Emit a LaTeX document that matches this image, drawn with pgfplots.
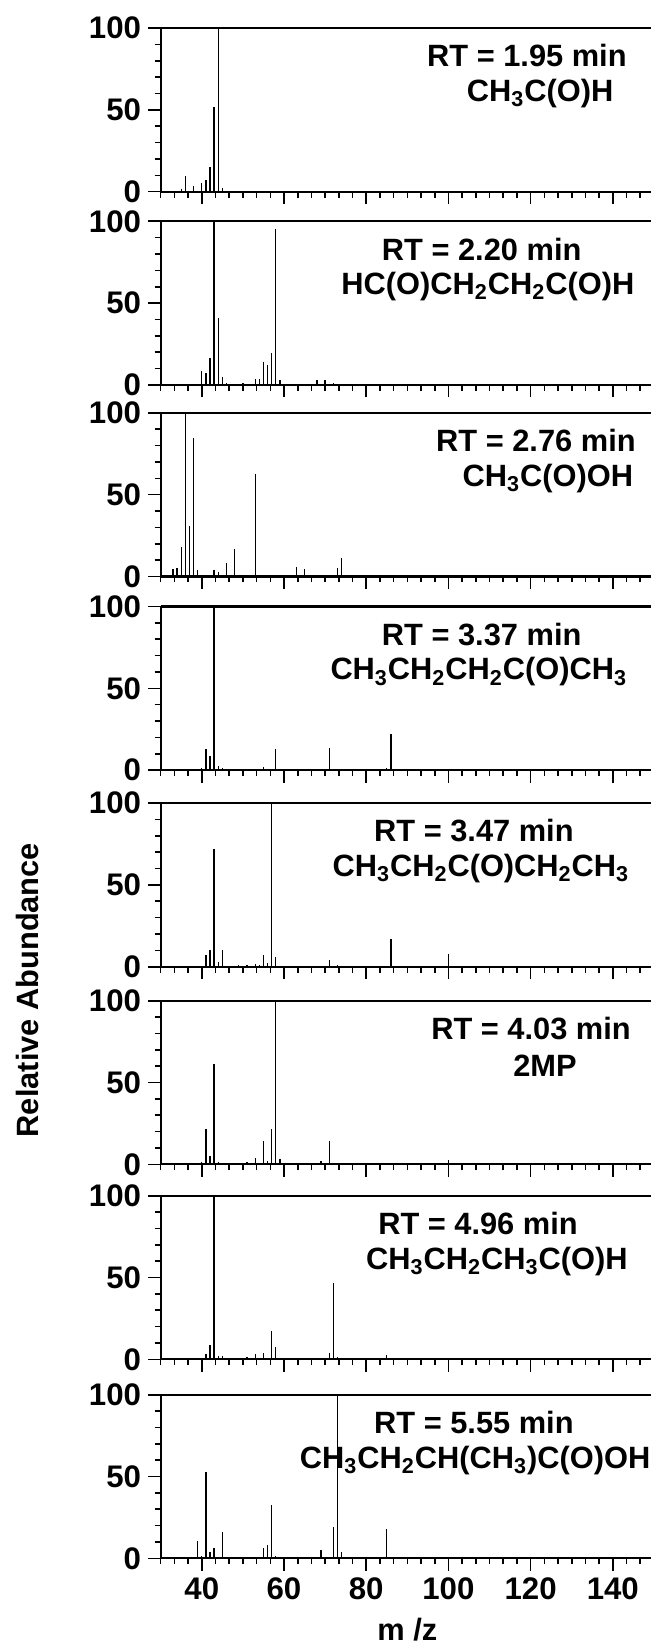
\documentclass[border=0pt]{standalone}
\usepackage{fontspec}
\setmainfont{Liberation Sans}
\usepackage{pgfplots}
\pgfplotsset{compat=1.18}

\newcommand{\sub}[1]{\textsubscript{#1}}
\newcommand{\lbl}{\bfseries\fontsize{15.4}{17}\selectfont}
\newcommand{\tlbl}{\bfseries\fontsize{15.6}{17}\selectfont}

\pgfplotsset{
  ms/.style={
    scale only axis,
    width=246.6pt, height=81.8pt,
    xmin=30, xmax=150, ymin=0, ymax=100,
    axis x line=bottom, axis y line=left,
    axis line style={-, line width=1.1pt},
    xtick={20,40,...,160}, minor x tick num=5,
    ytick={0,50,100}, minor y tick num=4,
    xtick pos=bottom, ytick pos=left,
    tick align=outside,
    major tick length=6.3pt, minor tick length=3pt,
    tick style={black, line width=0.8pt},
    tick label style={font=\tlbl},
    yticklabel style={inner ysep=0pt},
    /pgf/number format/assume math mode=true,
    clip=false,
    execute at end axis={\draw[line width=1.1pt] (rel axis cs:0,1) -- (rel axis cs:1,1);},
  },
  inner/.style={ms, xticklabels={}},
  peaks/.style={ycomb, black, line width=0.65pt, mark=none},
}

\begin{document}
\begin{tikzpicture}
\path[use as bounding box] (-80.35pt,-727.65pt) rectangle (245.15pt,95.85pt);

% 1.95 min
\begin{axis}[inner, at={(0,0)}]
\addplot[peaks] coordinates {(35,1.4)(36,9.5)(38,3.4)(40,5.5)(41,7)(42,15)(43,52)(44,100)(45,2)};
\node[font=\lbl] at (axis cs:119.1,83) {RT = 1.95 min};
\node[font=\lbl] at (axis cs:122.3,60) {CH\sub{3}C(O)H};
\end{axis}

% 2.20 min
\begin{axis}[inner, at={(0,-96.6pt)}]
\addplot[peaks] coordinates {(40,8.8)(41,7.4)(42,16.4)(43,100)(44,40.8)(45,4.7)(46,1)(49,0.5)(50,1.2)(51,0.6)(53,3.3)(54,3.3)(55,14)(56,12)(57,19.5)(58,95.5)(59,2.7)(65,0.3)(68,2.9)(70,2.9)(72,1)};
\node[font=\lbl] at (axis cs:108.1,83) {RT = 2.20 min};
\node[font=\lbl] at (axis cs:109.6,60) {HC(O)CH\sub{2}CH\sub{2}C(O)H};
\end{axis}

% 2.76 min
\begin{axis}[inner, at={(0,-192.4pt)}]
\addplot[peaks] coordinates {(33,4.5)(34,5)(35,18)(36,100)(37,31)(38,84.6)(39,4)(40,0.5)(41,0.5)(42,0.8)(43,3.7)(44,3)(45,1.2)(46,8.2)(47,1)(48,16.6)(49,1)(50,1)(51,1)(53,62.5)(54,1)(55,1)(63,5.7)(65,4.3)(67,0.5)(70,0.5)(73,5.5)(74,11.5)(75,0.3)};
\node[font=\lbl] at (axis cs:121.3,83) {RT = 2.76 min};
\node[font=\lbl] at (axis cs:124.2,60) {CH\sub{3}C(O)OH};
\end{axis}

% 3.37 min
\begin{axis}[inner, at={(0,-289.2pt)}]
\addplot[peaks] coordinates {(40,1.2)(41,12.8)(42,8.7)(43,100)(44,2.4)(45,1.4)(55,2.2)(58,12.8)(70,0.3)(71,13.4)(72,0.3)(85,1)(86,22.3)(87,0.8)};
\node[font=\lbl] at (axis cs:108.1,83) {RT = 3.37 min};
\node[font=\lbl] at (axis cs:107.4,60) {CH\sub{3}CH\sub{2}CH\sub{2}C(O)CH\sub{3}};
\end{axis}

% 3.47 min
\begin{axis}[inner, at={(0,-387.5pt)}]
\addplot[peaks] coordinates {(41,7.1)(42,10)(43,72)(44,3)(45,10)(49,1)(51,0.8)(53,1.8)(54,0.8)(55,6.9)(56,2.2)(57,100)(58,5.7)(60,0.3)(71,4)(73,0.8)(86,17.2)(87,0.5)(100,7.5)};
\node[font=\lbl] at (axis cs:106.2,83) {RT = 3.47 min};
\node[font=\lbl] at (axis cs:107.9,60) {CH\sub{3}CH\sub{2}C(O)CH\sub{2}CH\sub{3}};
\end{axis}

% 4.03 min
\begin{axis}[inner, at={(0,-486.3pt)}]
\addplot[peaks] coordinates {(40,1.4)(41,21.4)(42,4.9)(43,61.5)(44,1.6)(50,0.6)(51,1.2)(53,3.7)(54,1)(55,14)(56,2)(57,21.4)(58,100)(59,3)(67,0.3)(69,2.2)(70,1)(71,14)(72,0.3)(100,2.4)};
\node[font=\lbl] at (axis cs:120.1,83) {RT = 4.03 min};
\node[font=\lbl] at (axis cs:123.5,60) {2MP};
\end{axis}

% 4.96 min
\begin{axis}[inner, at={(0,-583.8pt)}]
\addplot[peaks] coordinates {(40,0.5)(41,3)(42,8.8)(43,100)(44,2.2)(45,2.2)(50,1)(51,1.4)(53,3)(54,0.6)(55,3.9)(56,0.8)(57,17.3)(58,7.3)(59,1)(71,3.7)(72,46.7)(73,1.6)(85,2.4)};
\node[font=\lbl] at (axis cs:107.2,83) {RT = 4.96 min};
\node[font=\lbl] at (axis cs:111.8,60) {CH\sub{3}CH\sub{2}CH\sub{3}C(O)H};
\end{axis}

% 5.55 min
\begin{axis}[ms, at={(0,-683.3pt)}, xlabel={m /z}, xlabel style={font=\lbl, yshift=-2pt}]
\addplot[peaks] coordinates {(38,1)(39,10.8)(40,1.6)(41,52.7)(42,3.7)(43,6.1)(44,1)(45,15.8)(46,0.6)(50,0.4)(51,0.4)(53,1)(55,6.3)(56,8.1)(57,32.7)(58,1.4)(59,1)(60,0.5)(69,5.3)(72,19.4)(73,100)(74,3.6)(85,18)};
\node[font=\lbl] at (axis cs:106.2,83) {RT = 5.55 min};
\node[font=\lbl] at (axis cs:106.5,60) {CH\sub{3}CH\sub{2}CH(CH\sub{3})C(O)OH};
\end{axis}

\node[font=\lbl, rotate=90] at (-66.5pt,-399.2pt) {Relative Abundance};
\end{tikzpicture}
\end{document}
